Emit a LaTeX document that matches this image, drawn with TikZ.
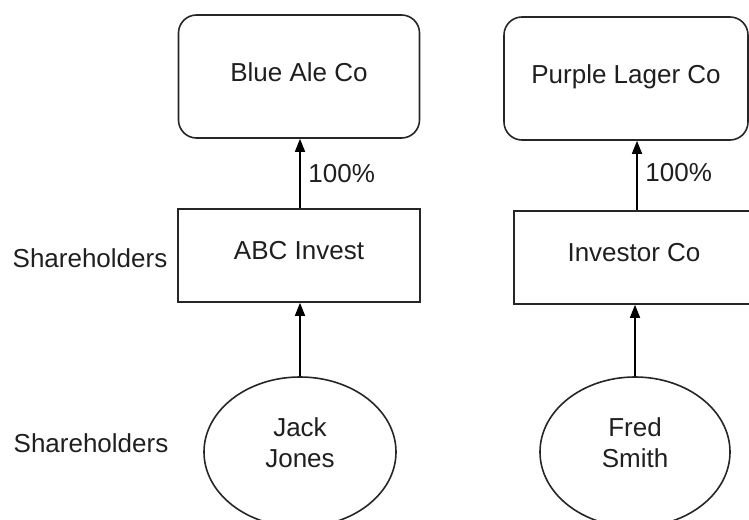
\documentclass[tikz,border=0pt]{standalone}
\usepackage{fontspec}
\setmainfont{Liberation Sans}
\usetikzlibrary{arrows.meta,shapes.geometric}
\begin{document}
\begin{tikzpicture}[x=0.5pt,y=-0.5pt,
  lbl/.style={font=\fontsize{13}{15.5}\selectfont, text=black!88},
  entitybox/.style={lbl, draw=black!85, line width=0.8pt, align=center, inner sep=0pt},
  company/.style={entitybox, rectangle, rounded corners=9pt, text depth=4.5pt},
  holding/.style={entitybox, rectangle, text depth=5pt},
  person/.style={entitybox, ellipse, text depth=9pt},
  arr/.style={draw=black, line width=0.8pt, -{Triangle[width=5pt,length=6.5pt]}}]
\useasboundingbox (0,0) rectangle (749,519);
\clip (0,0) rectangle (749,519);

\node[company, minimum width=120.5pt, minimum height=61.5pt] (blue) at (299,76.5) {Blue Ale Co};
\node[company, minimum width=122pt, minimum height=61.5pt] (purple) at (626,78.5) {Purple Lager Co};

\node[holding, minimum width=121pt, minimum height=46.5pt] (abc) at (299,255.5) {ABC Invest};
\node[holding, minimum width=120pt, minimum height=46.5pt] (inv) at (634,257.5) {Investor Co};

\node[person, minimum width=96pt, minimum height=75pt] (jack) at (300,452) {Jack\\Jones};
\node[person, minimum width=95pt, minimum height=75pt] (fred) at (635,452) {Fred\\Smith};

\node[lbl] (sh1) at (90,258) {Shareholders};
\node[lbl] (sh2) at (91,443) {Shareholders};

\draw[arr] ([xshift=0.5pt]abc.north) -- ([xshift=0.5pt]abc.north |- blue.south)
  node[lbl, midway, right, xshift=0.5pt] (p1) {100\%};
\draw[arr] ([xshift=1.5pt]inv.north) -- ([xshift=1.5pt]inv.north |- purple.south)
  node[lbl, pos=0.54, right, xshift=0.5pt] (p2) {100\%};

\draw[arr] (jack.north) -- (jack.north |- abc.south);
\draw[arr] (fred.north) -- (fred.north |- inv.south);
\end{tikzpicture}
\end{document}
